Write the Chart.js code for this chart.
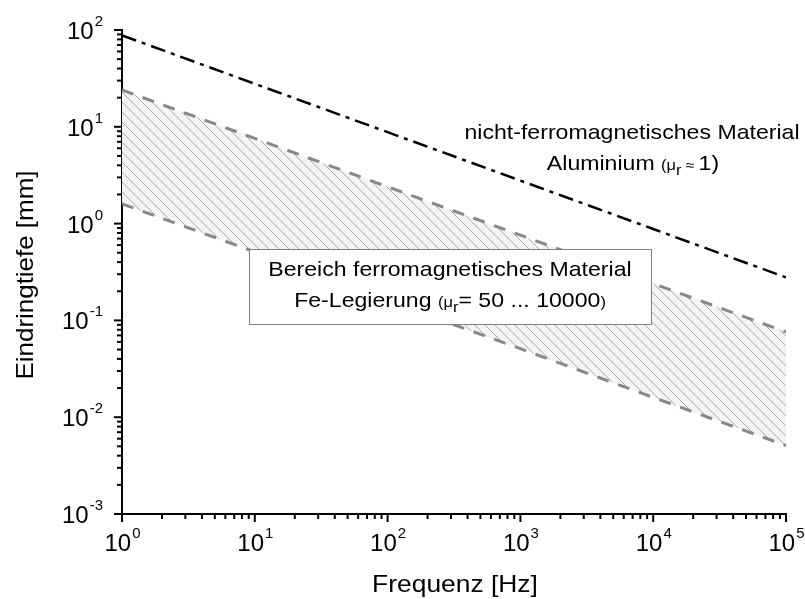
<!DOCTYPE html>
<html>
<head>
<meta charset="utf-8">
<script src="https://cdn.jsdelivr.net/npm/chart.js@4"></script>
<style>
  html, body { margin: 0; padding: 0; background: #fff; }
  canvas { display: block; }
</style>
</head>
<body>
<canvas id="c" width="805" height="599"></canvas>
<script>
// Eindringtiefe über Frequenz (log-log)
const freqHz = [1, 10, 100, 1000, 10000, 100000];
const depthAl = [88, 27.8, 8.8, 2.78, 0.88, 0.278];        // Aluminium, mu_r ~ 1
const depthFeUpper = [24, 7.6, 2.4, 0.76, 0.24, 0.076];    // Fe, mu_r = 50
const depthFeLower = [1.6, 0.51, 0.16, 0.051, 0.016, 0.0051]; // Fe, mu_r = 10000

const xMajor = [1, 10, 100, 1000, 10000, 100000];
const xMajorExp = ['0', '1', '2', '3', '4', '5'];
const yMajor = [0.001, 0.01, 0.1, 1, 10, 100];
const yMajorExp = ['-3', '-2', '-1', '0', '1', '2'];
const minorSteps = [2, 3, 4, 5, 6, 7, 8, 9];

const FONT = '"Liberation Sans", Arial, sans-serif';

function pts(ys) {
  return freqHz.map((f, i) => ({ x: f, y: ys[i] }));
}

// Schraffur für den Ferro-Bereich
function makeHatch() {
  const c = document.createElement('canvas');
  c.width = 10; c.height = 10;
  const g = c.getContext('2d');
  g.fillStyle = '#f4f4f4';
  g.fillRect(0, 0, 10, 10);
  g.strokeStyle = '#a0a0a0';
  g.lineWidth = 0.9;
  g.beginPath();
  g.moveTo(-1, -1); g.lineTo(11, 11);
  g.stroke();
  return g.createPattern(c, 'repeat');
}

// Text mit leichter horizontaler Streckung
function stretchText(ctx, txt, x, y, sx) {
  ctx.save();
  ctx.translate(x, y);
  ctx.scale(sx, 1);
  ctx.fillText(txt, 0, 0);
  ctx.restore();
}

// Zeile aus mehreren Teilen (Index, kleine Klammern ...), zentriert
function drawRuns(ctx, runs, cx, baseY, sx) {
  ctx.textAlign = 'left';
  ctx.textBaseline = 'alphabetic';
  let w = 0;
  runs.forEach(r => {
    ctx.font = r.size + 'px ' + FONT;
    r.w = ctx.measureText(r.t).width * sx;
    w += r.w;
  });
  let x = cx - w / 2;
  runs.forEach(r => {
    ctx.font = r.size + 'px ' + FONT;
    stretchText(ctx, r.t, x, baseY + (r.dy || 0), sx);
    x += r.w;
  });
}

const axisDeco = {
  id: 'axisDeco',
  afterDatasetsDraw(chart) {
    const ctx = chart.ctx;
    ctx.save();
    ctx.fillStyle = '#000';

    // Aluminium
    drawRuns(ctx, [{ t: 'nicht-ferromagnetisches Material', size: 21 }], 632, 139, 1.1);
    drawRuns(ctx, [
      { t: 'Aluminium ', size: 21 },
      { t: '(\u03bc', size: 15 },
      { t: 'r', size: 15, dy: 5 },
      { t: ' \u2248 ', size: 14 },
      { t: '1)', size: 21 }
    ], 633, 170, 1.1);

    // Kasten Ferro-Bereich
    ctx.fillStyle = '#fff';
    ctx.fillRect(249, 249, 403, 76);
    ctx.strokeStyle = '#808080';
    ctx.lineWidth = 1;
    ctx.strokeRect(249.5, 249.5, 402, 75);
    ctx.fillStyle = '#000';
    drawRuns(ctx, [{ t: 'Bereich ferromagnetisches Material', size: 21 }], 450, 276, 1.1);
    drawRuns(ctx, [
      { t: 'Fe-Legierung ', size: 21 },
      { t: '(\u03bc', size: 15 },
      { t: 'r', size: 15, dy: 5 },
      { t: '= 50 ... 10000', size: 21 },
      { t: ')', size: 15 }
    ], 450, 307, 1.1);
    ctx.restore();
  },
  afterDraw(chart) {
    const { ctx, chartArea: a, scales: { x, y } } = chart;
    ctx.save();
    ctx.strokeStyle = '#000';
    ctx.lineWidth = 2;
    const seg = (x1, y1, x2, y2) => {
      ctx.beginPath(); ctx.moveTo(x1, y1); ctx.lineTo(x2, y2); ctx.stroke();
    };

    // Teilstriche nach außen
    xMajor.forEach((v, i) => {
      const px = x.getPixelForValue(v);
      seg(px, a.bottom, px, a.bottom + 8);
      if (i < xMajor.length - 1) {
        minorSteps.forEach(m => {
          const p = x.getPixelForValue(v * m);
          seg(p, a.bottom, p, a.bottom + 5);
        });
      }
    });
    yMajor.forEach((v, i) => {
      const py = y.getPixelForValue(v);
      seg(a.left, py, a.left - 8, py);
      if (i < yMajor.length - 1) {
        minorSteps.forEach(m => {
          const p = y.getPixelForValue(v * m);
          seg(a.left, p, a.left - 5, p);
        });
      }
    });

    // Beschriftung 10^n
    ctx.fillStyle = '#000';
    ctx.textBaseline = 'alphabetic';
    ctx.textAlign = 'left';
    xMajor.forEach((v, i) => {
      const px = x.getPixelForValue(v);
      ctx.font = '24px ' + FONT;
      const wb = ctx.measureText('10').width;
      ctx.font = '15px ' + FONT;
      const we = ctx.measureText(xMajorExp[i]).width;
      const x0 = px - (wb + we) / 2;
      ctx.font = '24px ' + FONT;
      ctx.fillText('10', x0, a.bottom + 37);
      ctx.font = '15px ' + FONT;
      ctx.fillText(xMajorExp[i], x0 + wb + 1, a.bottom + 24);
    });
    yMajor.forEach((v, i) => {
      const py = y.getPixelForValue(v);
      ctx.font = '15px ' + FONT;
      const we = ctx.measureText(yMajorExp[i]).width;
      const right = a.left - 19;
      ctx.fillText(yMajorExp[i], right - we, py - 4);
      ctx.font = '24px ' + FONT;
      const wb = ctx.measureText('10').width;
      ctx.fillText('10', right - we - 1 - wb, py + 9);
    });

    // Achsentitel
    ctx.font = '24px ' + FONT;
    ctx.textAlign = 'center';
    stretchText(ctx, 'Frequenz [Hz]', (a.left + a.right) / 2 + 1, 592, 1.1);
    ctx.save();
    ctx.translate(33, 275);
    ctx.rotate(-Math.PI / 2);
    stretchText(ctx, 'Eindringtiefe [mm]', 0, 0, 1.08);
    ctx.restore();
    ctx.restore();
  }
};

new Chart(document.getElementById('c'), {
  type: 'line',
  data: {
    datasets: [
      {
        label: 'Fe mu_r=50',
        data: pts(depthFeUpper),
        borderColor: '#888888',
        borderWidth: 3,
        borderDash: [12, 10],
        pointRadius: 0,
        fill: false
      },
      {
        label: 'Fe mu_r=10000',
        data: pts(depthFeLower),
        borderColor: '#888888',
        borderWidth: 3,
        borderDash: [12, 10],
        pointRadius: 0,
        backgroundColor: makeHatch(),
        fill: '-1'
      },
      {
        label: 'Aluminium',
        data: pts(depthAl),
        borderColor: '#000',
        borderWidth: 2.5,
        borderDash: [15, 6, 4, 6],
        pointRadius: 0,
        fill: false
      }
    ]
  },
  options: {
    responsive: false,
    devicePixelRatio: 1,
    animation: false,
    layout: { padding: { top: 30, right: 19, left: 0, bottom: 0 } },
    plugins: {
      legend: { display: false },
      tooltip: { enabled: false }
    },
    scales: {
      x: {
        type: 'logarithmic',
        position: 'bottom',
        min: 1,
        max: 100000,
        ticks: { display: false },
        grid: { display: false },
        border: { display: true, color: '#000', width: 2 },
        afterFit: s => { s.height = 85; }
      },
      y: {
        type: 'logarithmic',
        position: 'left',
        min: 0.001,
        max: 100,
        ticks: { display: false },
        grid: { display: false },
        border: { display: true, color: '#000', width: 2 },
        afterFit: s => { s.width = 122; }
      }
    }
  },
  plugins: [axisDeco]
});
</script>
</body>
</html>
